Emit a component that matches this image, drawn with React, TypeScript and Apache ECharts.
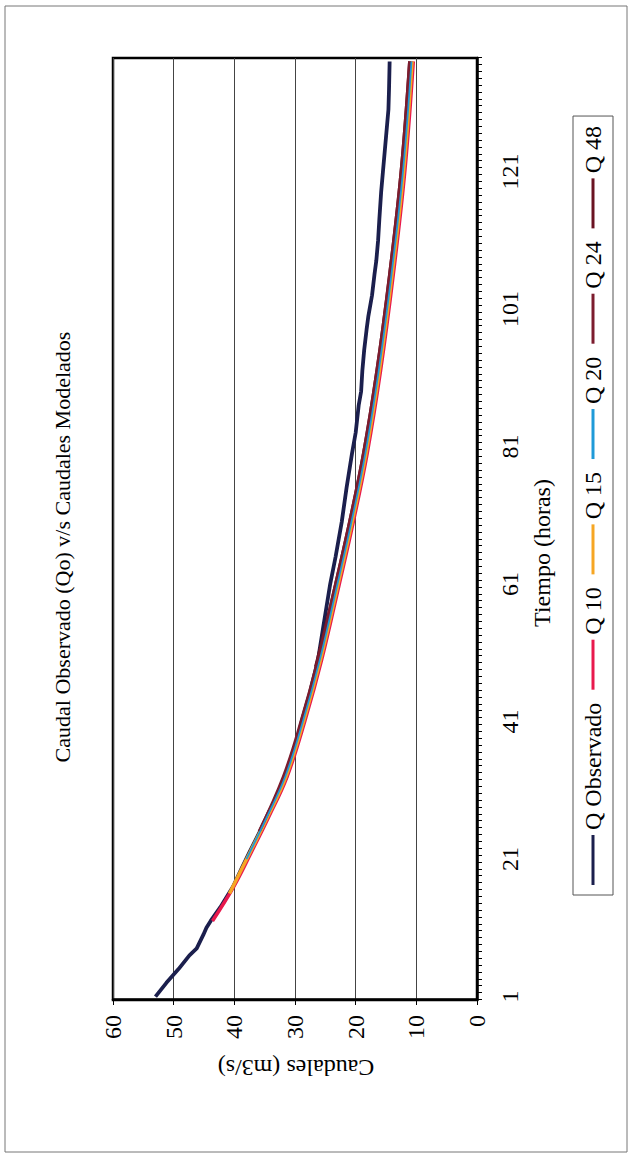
import React, { useEffect, useRef } from "react";
import * as echarts from "echarts";

const FONT = '"Liberation Serif", "Times New Roman", serif';

const chartTitle = "Caudal Observado (Qo) v/s Caudales Modelados";
const xTitle = "Tiempo (horas)";
const yTitle = "Caudales (m3/s)";

// hours 1..137 (category axis)
const hours: string[] = [];
for (let h = 1; h <= 137; h++) hours.push(String(h));

// [hour, Q] pairs
const qObservado: [number, number][] = [
  [1, 53.0], [3, 51.2], [5, 49.2], [7, 47.4], [8, 46.2], [10, 45.1], [11, 44.6], [12, 43.9],
  [14, 42.3], [17, 40.2], [20, 38.6], [22, 37.5], [25, 35.8], [28, 34.2], [30, 32.9],
  [33, 31.4], [37, 30.0], [41, 28.9], [45, 27.6], [50, 26.2], [55, 25.3], [61, 24.2],
  [65, 23.3], [70, 22.3], [75, 21.5], [80, 20.6], [83, 20.0], [87, 19.5], [89, 19.1],
  [92, 18.9], [95, 18.6], [98, 18.2], [100, 17.9], [103, 17.3], [106, 16.9], [108, 16.6],
  [111, 16.3], [114, 16.1], [118, 15.8], [121, 15.5], [124, 15.2], [126, 15.0],
  [128, 14.8], [130, 14.6], [133, 14.5], [137, 14.4],
];
const q10: [number, number][] = [
  [12, 43.6], [17, 40.1], [22, 37.2], [27, 34.4], [33, 31.3], [41, 28.4], [50, 25.6],
  [61, 22.7], [70, 20.4], [80, 18.1], [92, 15.9], [106, 13.8], [121, 11.9], [137, 10.5],
];
const q15: [number, number][] = [
  [16, 40.8], [22, 37.4], [27, 34.6], [33, 31.5], [41, 28.6], [50, 25.8],
  [61, 22.9], [70, 20.6], [80, 18.3], [92, 16.1], [106, 14.0], [121, 12.1], [137, 10.7],
];
const q20: [number, number][] = [
  [21, 38.0], [27, 34.7], [33, 31.6], [41, 28.7], [50, 25.9],
  [61, 23.0], [70, 20.7], [80, 18.4], [92, 16.2], [106, 14.1], [121, 12.2], [137, 10.8],
];
const q24: [number, number][] = [
  [25, 35.9], [33, 31.9], [41, 29.0], [50, 26.2],
  [61, 23.3], [70, 21.0], [80, 18.7], [92, 16.5], [106, 14.4], [121, 12.5], [137, 11.1],
];
const q48: [number, number][] = [
  [49, 26.6], [55, 24.9], [61, 23.3], [70, 21.0], [80, 18.7], [92, 16.5],
  [106, 14.4], [121, 12.5], [137, 11.1],
];

const seriesDefs = [
  { name: "Q Observado", data: qObservado, color: "#1b1f4d", width: 3.8, z: 2, smooth: false },
  { name: "Q 10", data: q10, color: "#e8194d", width: 3.5, z: 3, smooth: 0.4 },
  { name: "Q 15", data: q15, color: "#f6a623", width: 3.5, z: 4, smooth: 0.4 },
  { name: "Q 20", data: q20, color: "#1f9ad8", width: 1.8, z: 8, smooth: 0.4 },
  { name: "Q 24", data: q24, color: "#7c1c2e", width: 3.2, z: 6, smooth: 0.4 },
  { name: "Q 48", data: q48, color: "#6a1322", width: 3.2, z: 5, smooth: 0.4 },
];

export default function App() {
  const ref = useRef<HTMLDivElement>(null);
  useEffect(() => {
    if (!ref.current) return;
    const chart = echarts.init(ref.current, undefined, { renderer: "svg", width: 1158, height: 631 });
    chart.setOption({
      animation: false,
      backgroundColor: "#ffffff",
      textStyle: { fontFamily: FONT, color: "#000" },
      grid: {
        left: 158, right: 58, top: 113, bottom: 154,
        show: true, borderColor: "#000", borderWidth: 2.5, backgroundColor: "transparent",
      },
      legend: {
        left: 263, top: 573,
        orient: "horizontal",
        icon: "rect",
        itemWidth: 50, itemHeight: 3, itemGap: 13,
        padding: [8, 10, 8, 10],
        borderColor: "#555", borderWidth: 1,
        textStyle: { fontFamily: FONT, fontSize: 24, color: "#000" },
        data: seriesDefs.map((s) => s.name),
      },
      xAxis: {
        type: "category",
        data: hours,
        boundaryGap: true,
        axisLine: { lineStyle: { color: "#000", width: 2.5 } },
        axisTick: { show: true, interval: 0, length: 5, lineStyle: { color: "#000", width: 1 } },
        axisLabel: { interval: 19, margin: 21, fontSize: 24, fontFamily: FONT, color: "#000" },
        splitLine: { show: false },
      },
      yAxis: {
        type: "value",
        min: 0, max: 60, interval: 10,
        axisLine: { show: true, lineStyle: { color: "#000", width: 2.5 } },
        axisTick: { show: true, length: 5, lineStyle: { color: "#000", width: 1 } },
        axisLabel: { margin: 15, fontSize: 24, fontFamily: FONT, color: "#000" },
        splitLine: { show: true, lineStyle: { color: "#444", width: 1 } },
      },
      graphic: [
        {
          type: "rect", silent: true,
          shape: { x: 6, y: 5, width: 1146, height: 622 },
          style: { fill: "none", stroke: "#777", lineWidth: 1 },
        },
        {
          type: "text", x: 611, y: 62,
          style: {
            text: chartTitle, font: `22px ${FONT}`, fill: "#000",
            textAlign: "center", textVerticalAlign: "middle", align: "center", verticalAlign: "middle",
          },
        },
        {
          type: "text", x: 605, y: 542,
          style: {
            text: xTitle, font: `24px ${FONT}`, fill: "#000",
            textAlign: "center", textVerticalAlign: "middle", align: "center", verticalAlign: "middle",
          },
        },
        {
          type: "text", x: 90, y: 296, rotation: Math.PI / 2,
          style: {
            text: yTitle, font: `24px ${FONT}`, fill: "#000",
            textAlign: "center", textVerticalAlign: "middle", align: "center", verticalAlign: "middle",
          },
        },
      ],
      series: seriesDefs.map((s) => ({
        name: s.name,
        type: "line",
        data: s.data.map(([h, v]) => [String(h), v]),
        symbol: "none",
        showSymbol: false,
        smooth: s.smooth,
        z: s.z,
        itemStyle: { color: s.color },
        lineStyle: { color: s.color, width: s.width },
      })),
    });
    return () => chart.dispose();
  }, []);

  return (
    <div style={{ position: "fixed", left: 0, top: 0, width: 631, height: 1158, overflow: "hidden", background: "#fff" }}>
      <div
        ref={ref}
        style={{
          position: "absolute", left: 0, top: 0, width: 1158, height: 631,
          transformOrigin: "0 0", transform: "rotate(-90deg) translateX(-1158px)",
        }}
      />
    </div>
  );
}
